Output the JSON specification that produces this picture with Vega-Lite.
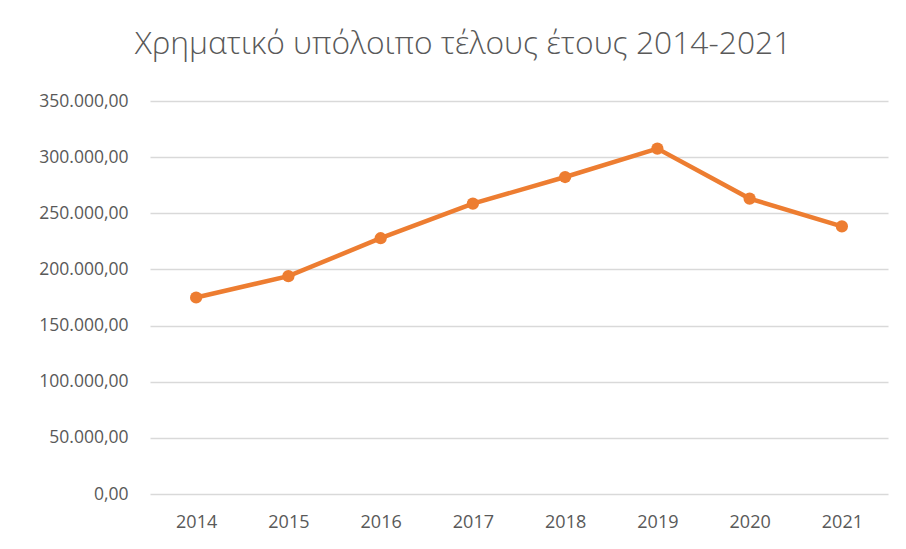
{
  "$schema": "https://vega.github.io/schema/vega-lite/v6.json",
  "width": 738,
  "height": 393,
  "autosize": {"type": "none"},
  "padding": {"left": 150, "top": 101, "right": 18, "bottom": 55},
  "background": "white",
  "config": {
    "locale": {"number": {"decimal": ",", "thousands": ".", "grouping": [3], "currency": ["", " €"]}},
    "view": {"stroke": null},
    "font": "Open Sans"
  },
  "title": {
    "text": "Χρηματικό υπόλοιπο τέλους έτους 2014-2021",
    "fontSize": 31.8,
    "font": "Open Sans",
    "fontWeight": 300,
    "color": "#595959",
    "anchor": "middle",
    "dx": -56,
    "offset": 31
  },
  "data": {
    "values": [
      {"year": "2014", "value": 175000},
      {"year": "2015", "value": 194000},
      {"year": "2016", "value": 227800},
      {"year": "2017", "value": 258600},
      {"year": "2018", "value": 282300},
      {"year": "2019", "value": 307600},
      {"year": "2020", "value": 263100},
      {"year": "2021", "value": 238400}
    ]
  },
  "encoding": {
    "x": {
      "field": "year", "type": "ordinal", "title": null,
      "scale": {"paddingInner": 0, "paddingOuter": 0.5},
      "axis": {"labelAngle": 0, "domain": false, "ticks": false, "labelFontSize": 18, "labelColor": "#595959", "labelPadding": 19, "grid": false}
    },
    "y": {
      "field": "value", "type": "quantitative", "title": null,
      "scale": {"domain": [0, 350000], "nice": false},
      "axis": {"values": [0, 50000, 100000, 150000, 200000, 250000, 300000, 350000], "format": ",.2f", "domain": false, "ticks": false, "labelFontSize": 17.5, "labelColor": "#595959", "labelPadding": 22, "gridColor": "#D9D9D9", "gridWidth": 1.3}
    }
  },
  "layer": [
    {"mark": {"type": "line", "color": "#ED7D31", "strokeWidth": 4.5}},
    {"mark": {"type": "point", "filled": true, "opacity": 1, "color": "#ED7D31", "size": 150}}
  ]
}
